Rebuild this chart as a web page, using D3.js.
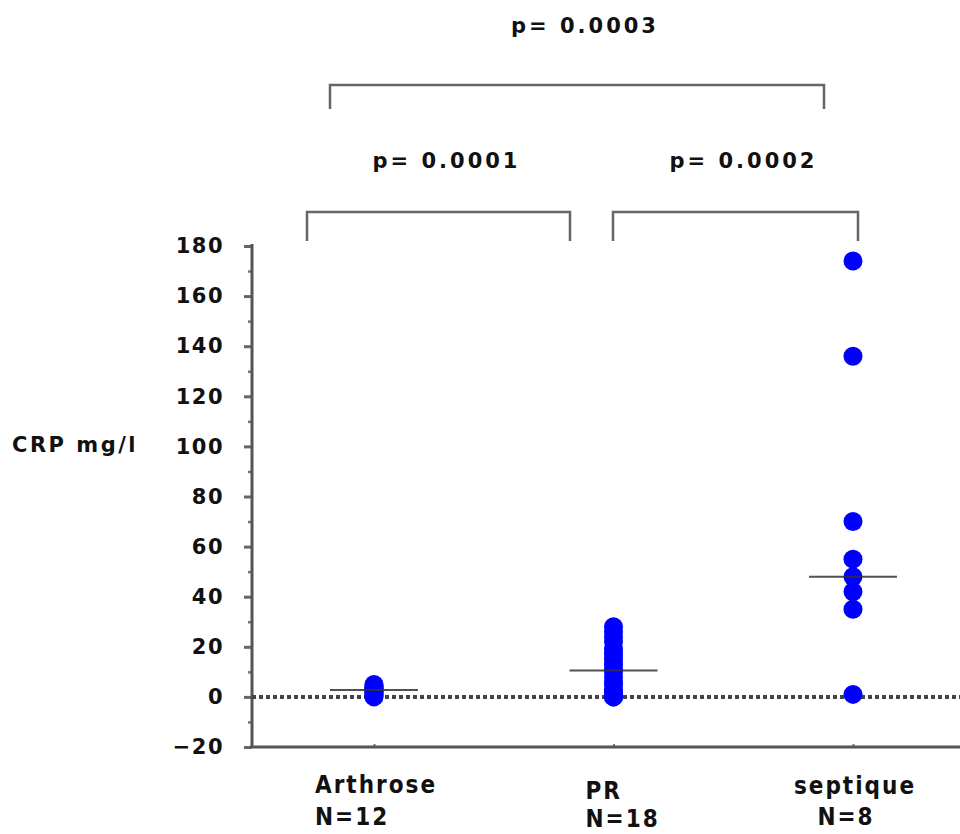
<!DOCTYPE html>
<html>
<head>
<meta charset="utf-8">
<script src="https://cdn.jsdelivr.net/npm/d3@7"></script>
<style>
  body { margin: 0; background: #fff; }
  svg { display: block; }
  .tickLabel { font-family: "DejaVu Sans", sans-serif; font-weight: bold; font-size: 21px; letter-spacing: 1.5px; fill: #111; }
  .pText { font-family: "DejaVu Sans", sans-serif; font-weight: bold; font-size: 21px; letter-spacing: 3px; fill: #111; }
  .catText { font-family: "DejaVu Sans Condensed", "DejaVu Sans", sans-serif; font-weight: bold; font-size: 24px; letter-spacing: 2px; fill: #111; }
</style>
</head>
<body>
<div id="chart"></div>
<script>
let svgWidth = 960;
let svgHeight = 834;

// Groups and sample sizes
let categories = ['Arthrose', 'PR', 'septique'];
let groupN = [12, 18, 8];

// CRP values (mg/l)
let arthroseValues = [0, 0.5, 1, 1.5, 2, 2.5, 3, 3, 3.5, 4, 4.5, 5];
let prValues = [0, 0, 1, 2, 3, 5, 6, 8, 10, 11, 13, 15, 17, 19, 22, 24, 26, 28];
let septiqueValues = [1, 35, 42, 48, 55, 70, 136, 174];

// Median bars as drawn in the picture
let groupMedians = [2.8, 10.5, 48];

// Y tick labels
let yTicks = [-20, 0, 20, 40, 60, 80, 100, 120, 140, 160, 180];

// Pairwise comparisons
let comparisons = [
    { from: 'Arthrose', to: 'septique', p: 'p= 0.0003' },
    { from: 'Arthrose', to: 'PR', p: 'p= 0.0001' },
    { from: 'PR', to: 'septique', p: 'p= 0.0002' }
];

let groupValues = [arthroseValues, prValues, septiqueValues];

let svg = d3.select('#chart')
    .append('svg')
    .attr('width', svgWidth)
    .attr('height', svgHeight);

// Scales
let xScale = d3.scalePoint()
    .domain(categories)
    .range([374, 853]);

let yScale = d3.scaleLinear()
    .domain([-20, 180])
    .range([747, 246]);

let axisX = 252;

// Y axis: major ticks with labels
let leftAxis = d3.axisLeft(yScale)
    .tickValues(yTicks)
    .tickSize(8)
    .tickPadding(20);

let yAxis = svg.append('g')
    .attr('transform', `translate(${axisX}, 0)`)
    .call(leftAxis);

yAxis.select('.domain').remove();
yAxis.selectAll('.tick line')
    .attr('stroke', '#666')
    .attr('stroke-width', 3);
yAxis.selectAll('.tick text')
    .attr('class', 'tickLabel')
    .attr('font-size', null)
    .attr('font-family', null);

// Minor ticks every 10
let minorAxis = d3.axisLeft(yScale)
    .tickValues(d3.range(-10, 180, 20))
    .tickSize(4)
    .tickFormat('');

svg.append('g')
    .attr('transform', `translate(${axisX}, 0)`)
    .call(minorAxis)
    .call(g => g.select('.domain').remove())
    .selectAll('.tick line')
    .attr('stroke', '#777')
    .attr('stroke-width', 2.5);

// Vertical axis line
svg.append('line')
    .attr('x1', axisX).attr('x2', axisX)
    .attr('y1', yScale(180) - 2).attr('y2', yScale(-20))
    .attr('stroke', '#555')
    .attr('stroke-width', 3);

// X axis along the bottom
let bottomAxis = d3.axisBottom(xScale)
    .tickSize(3)
    .tickFormat('');

let xAxis = svg.append('g')
    .attr('transform', `translate(0, ${yScale(-20)})`)
    .call(bottomAxis);

xAxis.select('.domain').remove();
xAxis.selectAll('.tick line')
    .attr('stroke', '#777')
    .attr('stroke-width', 2)
    .attr('y1', -3)
    .attr('y2', 1);

svg.append('line')
    .attr('x1', axisX - 2).attr('x2', svgWidth)
    .attr('y1', yScale(-20)).attr('y2', yScale(-20))
    .attr('stroke', '#555')
    .attr('stroke-width', 3);

// Dotted zero line
svg.append('line')
    .attr('x1', axisX).attr('x2', svgWidth)
    .attr('y1', yScale(0)).attr('y2', yScale(0))
    .attr('stroke', '#444')
    .attr('stroke-width', 4)
    .attr('stroke-dasharray', '4,3');

// Category labels (two lines each)
let labelLayout = {
    'Arthrose': { dx1: -59, dx2: -59, y1: 793, y2: 825, anchor: 'start' },
    'PR': { dx1: -28, dx2: -28, y1: 799, y2: 827, anchor: 'start' },
    'septique': { dx1: 2, dx2: -7, y1: 794, y2: 825, anchor: 'middle' }
};

categories.forEach((c, i) => {
    let l = labelLayout[c];
    svg.append('text')
        .attr('class', 'catText')
        .attr('x', xScale(c) + l.dx1)
        .attr('y', l.y1)
        .attr('text-anchor', l.anchor)
        .text(c);
    svg.append('text')
        .attr('class', 'catText')
        .attr('x', xScale(c) + l.dx2)
        .attr('y', l.y2)
        .attr('text-anchor', l.anchor)
        .text(`N=${groupN[i]}`);
});

// Dots
let dotData = [];
categories.forEach((c, i) => {
    groupValues[i].forEach(v => dotData.push({ cat: c, value: v }));
});

svg.append('g')
    .selectAll('circle')
    .data(dotData)
    .enter()
    .append('circle')
    .attr('cx', d => xScale(d.cat))
    .attr('cy', d => yScale(d.value))
    .attr('r', 9.5)
    .attr('fill', '#0000ff');

// Median lines
svg.append('g')
    .selectAll('line')
    .data(categories)
    .enter()
    .append('line')
    .attr('x1', d => xScale(d) - 44)
    .attr('x2', d => xScale(d) + 44)
    .attr('y1', (d, i) => yScale(groupMedians[i]))
    .attr('y2', (d, i) => yScale(groupMedians[i]))
    .attr('stroke', '#333')
    .attr('stroke-width', 2)
    .attr('opacity', 0.85);

// Significance brackets
let bracketLayout = [
    { x1: 330, x2: 824, y: 85, leg: 24, textY: 33 },
    { x1: 307, x2: 570, y: 212, leg: 29, textY: 168 },
    { x1: 613, x2: 858, y: 212, leg: 29, textY: 168 }
];

comparisons.forEach((cmp, i) => {
    let b = bracketLayout[i];
    svg.append('path')
        .attr('d', `M${b.x1},${b.y + b.leg}V${b.y}H${b.x2}V${b.y + b.leg}`)
        .attr('fill', 'none')
        .attr('stroke', '#666')
        .attr('stroke-width', 2.5);
    svg.append('text')
        .attr('class', 'pText')
        .attr('x', (b.x1 + b.x2) / 2 + 8)
        .attr('y', b.textY)
        .attr('text-anchor', 'middle')
        .text(cmp.p);
});

// Y axis title
svg.append('text')
    .attr('class', 'pText')
    .attr('x', 12)
    .attr('y', 452)
    .style('font-size', '21px')
    .style('letter-spacing', '2.5px')
    .text('CRP mg/l');
</script>
</body>
</html>
